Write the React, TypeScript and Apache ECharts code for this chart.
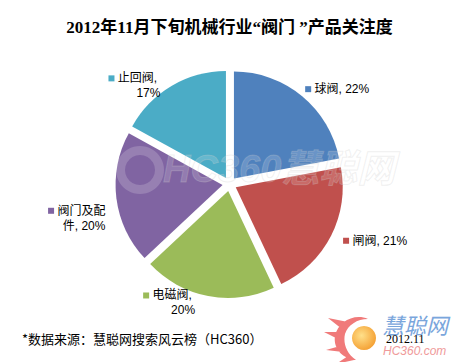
import React, { useEffect, useRef } from "react";
import * as echarts from "echarts";

const categories = ["球阀", "闸阀", "电磁阀", "阀门及配件", "止回阀"];
const shares = [22, 21, 20, 20, 17];
const colors = ["#4F81BD", "#C0504D", "#9BBB59", "#8064A2", "#4BACC6"];
const titleText = "2012年11月下旬机械行业“阀门 ”产品关注度";
const sourceText = "*数据来源：慧聪网搜索风云榜（HC360）";
const dateText = "2012.11";
const labelWidths = [0, 0, 60, 60, 60];
const labelNudgeX = [-2, 7, -8, -6, -6];
const labelNudgeY = [-7, 5, 7, 20, 0];

const swirlPath =
  "M 6 -19 C -8 -25 -24 -16 -27 -2 C -29 10 -20 21 -6 22 C -16 15 -19 5 -17 -4 C -14 -13 -5 -19 6 -19 Z " +
  "M -14 -16 L -34 -20 L -20 -9 Z M -22 -6 L -38 -6 L -24 1 Z M -22 8 L -36 12 L -19 14 Z M -14 18 L -26 26 L -8 22 Z";

export default function App() {
  const ref = useRef<HTMLDivElement>(null);
  useEffect(() => {
    if (!ref.current) return;
    echarts.graphic.registerShape("swirl", echarts.graphic.extendPath(swirlPath, {}));
    const chart = echarts.init(ref.current, null, { renderer: "svg" });
    const rich: Record<string, any> = {};
    colors.forEach((c, i) => {
      rich["s" + i] = { width: 6, height: 6, backgroundColor: c, padding: 0 };
    });
    chart.setOption({
      animation: false,
      backgroundColor: "#ffffff",
      title: {
        text: titleText,
        left: "center",
        top: 14,
        textStyle: {
          fontSize: 17,
          fontWeight: "bold",
          color: "#000",
          fontFamily: "'Liberation Serif', 'Noto Sans CJK SC', serif",
        },
      },
      series: [
        {
          type: "pie",
          center: [229.5, 184],
          radius: 107,
          startAngle: 90,
          clockwise: true,
          selectedMode: "multiple",
          selectedOffset: 7,
          emphasis: { disabled: true },
          itemStyle: { borderWidth: 0 },
          labelLine: { show: false, length: 0, length2: 0 },
          labelLayout: (p: any) => ({
            dx: labelNudgeX[p.dataIndex],
            dy: labelNudgeY[p.dataIndex],
          }),
          label: {
            show: true,
            position: "outside",
            color: "#000",
            fontSize: 12,
            lineHeight: 15,
            fontFamily: "'Liberation Sans', 'Noto Sans CJK SC', sans-serif",
            formatter: (p: any) => `{s${p.dataIndex}|} ${p.name}, ${p.value}%`,
            rich,
          },
          data: categories.map((name, i) => ({
            name,
            value: shares[i],
            selected: true,
            itemStyle: { color: colors[i] },
            label: labelWidths[i] ? { width: labelWidths[i], overflow: "break" } : {},
          })),
        },
      ],
      graphic: [
        {
          type: "text",
          left: 22,
          top: 332,
          style: {
            text: sourceText,
            fontSize: 13,
            fill: "#000",
            fontFamily: "'Noto Sans CJK SC', sans-serif",
          },
        },
        {
          type: "swirl",
          x: 362,
          y: 338,
          style: { fill: "#f07a7a" },
        },
        {
          type: "circle",
          shape: { cx: 364, cy: 338, r: 12 },
          style: {
            fill: new echarts.graphic.RadialGradient(0.4, 0.4, 0.7, [
              { offset: 0, color: "#ffe08a" },
              { offset: 1, color: "#f39a2b" },
            ]),
          },
        },
        {
          type: "text",
          x: 382,
          y: 313,
          style: {
            text: "慧聪网",
            fontSize: 22,
            fontStyle: "italic",
            fill: "#7aa6dc",
            fontFamily: "'Noto Sans CJK SC', sans-serif",
          },
        },
        {
          type: "text",
          x: 383,
          y: 345,
          style: {
            text: "HC360.com",
            fontSize: 12,
            fontStyle: "italic",
            fill: "#ef9a9a",
            fontFamily: "'Liberation Sans', sans-serif",
          },
        },
        {
          type: "text",
          x: 386,
          y: 333,
          style: {
            text: dateText,
            fontSize: 12,
            fill: "#000",
            fontFamily: "'Liberation Serif', serif",
          },
        },
        {
          type: "ring",
          shape: { cx: 140, cy: 170, r: 24, r0: 15 },
          style: { fill: "rgba(255,255,255,0.18)" },
          z: 10,
        },
        {
          type: "text",
          x: 163,
          y: 150,
          z: 10,
          style: {
            text: "HC360慧聪网",
            fontSize: 38,
            fontWeight: "bold",
            fontStyle: "italic",
            fill: "rgba(255,255,255,0.16)",
            stroke: "rgba(200,200,200,0.28)",
            lineWidth: 1,
            fontFamily: "'Liberation Sans', 'Noto Sans CJK SC', sans-serif",
          },
        },
      ],
    });
    return () => chart.dispose();
  }, []);
  return (
    <div
      ref={ref}
      style={{ position: "fixed", left: 0, top: 0, width: 459, height: 362 }}
    />
  );
}
